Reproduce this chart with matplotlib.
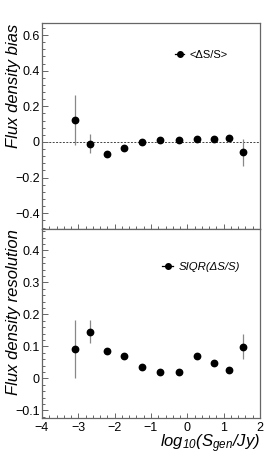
import numpy as np
import matplotlib
matplotlib.use("Agg")
import matplotlib.pyplot as plt
from matplotlib.lines import Line2D
from matplotlib.ticker import MultipleLocator, FuncFormatter

plt.rcParams['font.family'] = ['Liberation Sans', 'DejaVu Sans']
plt.rcParams['mathtext.fontset'] = 'custom'
plt.rcParams['mathtext.it'] = 'Liberation Sans:italic'
plt.rcParams['mathtext.rm'] = 'Liberation Sans:italic'

# bin centres, log10(S_gen/Jy)
logS = [-3.09, -2.68, -2.22, -1.73, -1.24, -0.75, -0.22, 0.26, 0.73, 1.14, 1.54]

# <dS/S> (bias) and its error
bias = [0.121, -0.009, -0.065, -0.034, -0.002, 0.011, 0.011, 0.015, 0.019, 0.021, -0.058]
bias_err = [0.140, 0.055, 0.012, 0.006, 0.003, 0.003, 0.003, 0.003, 0.003, 0.003, 0.077]

# SIQR(dS/S) (resolution) and its error
reso = [0.092, 0.146, 0.086, 0.070, 0.034, 0.020, 0.020, 0.070, 0.048, 0.026, 0.099]
reso_err = [0.091, 0.037, 0.010, 0.004, 0.003, 0.002, 0.002, 0.004, 0.003, 0.002, 0.039]

frame_col = '#666666'
err_col = '#888888'


def fmt(v, pos):
    s = '%g' % round(v, 3)
    return s.replace('-', '\u2212')


def style_axis(ax):
    for sp in ax.spines.values():
        sp.set_color(frame_col)
        sp.set_linewidth(0.9)
    ax.tick_params(which='both', direction='in', top=False, right=False,
                   color=frame_col, width=0.7, labelsize=9, pad=1.5)
    ax.tick_params(axis='y', which='major', length=4.2)
    ax.tick_params(axis='y', which='minor', length=2.2)
    ax.tick_params(axis='x', which='major', length=3.8)
    ax.tick_params(axis='x', which='minor', length=1.9)
    ax.xaxis.set_major_locator(MultipleLocator(1))
    ax.xaxis.set_minor_locator(MultipleLocator(0.2))
    ax.yaxis.set_major_formatter(FuncFormatter(fmt))
    ax.xaxis.set_major_formatter(FuncFormatter(fmt))
    ax.set_xlim(-4, 2)


fig = plt.figure(figsize=(2.75, 4.61), dpi=100)
ax1 = fig.add_axes([0.1527, 0.5026, 0.7927, 0.4469])
ax2 = fig.add_axes([0.1527, 0.0939, 0.7927, 0.4087])

# top: bias
style_axis(ax1)
ax1.set_ylim(-0.49, 0.666)
ax1.yaxis.set_major_locator(MultipleLocator(0.2))
ax1.yaxis.set_minor_locator(MultipleLocator(0.04))
ax1.axhline(0, color='#444444', lw=0.7, ls=(0, (2, 1.5)), zorder=1)
ax1.errorbar(logS, bias, yerr=bias_err, fmt='o', color='black', ms=4.6,
             ecolor=err_col, elinewidth=0.9, capsize=0, zorder=3)
ax1.tick_params(axis='x', labelbottom=False)
ax1.set_ylabel('Flux density bias', fontsize=12, style='italic', loc='top')
ax1.yaxis.set_label_coords(-0.096, 1.0)
h1 = Line2D([], [], color='black', marker='o', ms=4, lw=0.9)
ax1.legend([h1], ['<\u0394S/S>'], loc='center left', bbox_to_anchor=(0.612, 0.846),
           frameon=False, prop={'size': 8}, borderpad=0, borderaxespad=0,
           handlelength=0.8, handletextpad=0.5)

# bottom: resolution
style_axis(ax2)
ax2.set_ylim(-0.123, 0.466)
ax2.yaxis.set_major_locator(MultipleLocator(0.1))
ax2.yaxis.set_minor_locator(MultipleLocator(0.02))
ax2.errorbar(logS, reso, yerr=reso_err, fmt='o', color='black', ms=4.6,
             ecolor=err_col, elinewidth=0.9, capsize=0, zorder=3)
ax2.tick_params(axis='x', pad=3)
ax2.set_ylabel('Flux density resolution', fontsize=12, style='italic', loc='top')
ax2.yaxis.set_label_coords(-0.096, 1.0)
ax2.set_xlabel(r'$log_{10}(S_{gen}/Jy)$', fontsize=12, loc='right')
ax2.xaxis.set_label_coords(1.0, -0.08)
h2 = Line2D([], [], color='black', marker='o', ms=4, lw=0.9)
ax2.legend([h2], ['SIQR(\u0394S/S)'], loc='center left', bbox_to_anchor=(0.552, 0.798),
           frameon=False, prop={'style': 'italic', 'size': 8.2},
           borderpad=0, borderaxespad=0, handlelength=0.95, handletextpad=0.5)

fig.savefig('out.png', dpi=100)
